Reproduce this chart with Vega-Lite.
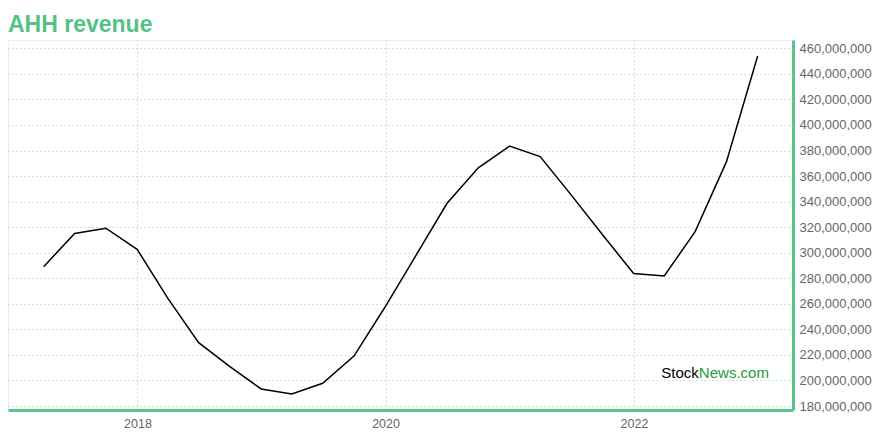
{
  "$schema": "https://vega.github.io/schema/vega-lite/v6.json",
  "autosize": {"type": "none"},
  "width": 785,
  "height": 370,
  "padding": {"left": 8, "top": 40, "right": 87, "bottom": 30},
  "background": "white",
  "title": {
    "text": "AHH revenue",
    "anchor": "start",
    "frame": "group",
    "offset": 3,
    "font": "Liberation Sans",
    "fontSize": 23,
    "fontWeight": "bold",
    "color": "#52c286"
  },
  "config": {
    "view": {"stroke": "#eeeeee", "strokeWidth": 1},
    "axis": {
      "labelFont": "Liberation Sans",
      "labelFontSize": 13,
      "labelColor": "#666666",
      "labelOverlap": false,
      "domainColor": "#5cc58a",
      "domainWidth": 3,
      "ticks": false,
      "grid": true,
      "gridColor": "#7fd0a2",
      "gridDash": [1, 3],
      "gridWidth": 1,
      "gridOpacity": 0.9,
      "title": null
    }
  },
  "data": {
    "values": [
      {"date": "2017-03-31", "revenue": 289100000},
      {"date": "2017-06-30", "revenue": 315000000},
      {"date": "2017-09-30", "revenue": 319200000},
      {"date": "2017-12-31", "revenue": 302700000},
      {"date": "2018-03-31", "revenue": 264400000},
      {"date": "2018-06-30", "revenue": 229600000},
      {"date": "2018-09-30", "revenue": 210800000},
      {"date": "2018-12-31", "revenue": 193400000},
      {"date": "2019-03-31", "revenue": 189400000},
      {"date": "2019-06-30", "revenue": 197800000},
      {"date": "2019-09-30", "revenue": 219100000},
      {"date": "2019-12-31", "revenue": 257700000},
      {"date": "2020-03-31", "revenue": 298200000},
      {"date": "2020-06-30", "revenue": 338700000},
      {"date": "2020-09-30", "revenue": 366500000},
      {"date": "2020-12-31", "revenue": 383500000},
      {"date": "2021-03-31", "revenue": 375200000},
      {"date": "2021-06-30", "revenue": 345300000},
      {"date": "2021-09-30", "revenue": 314200000},
      {"date": "2021-12-31", "revenue": 283800000},
      {"date": "2022-03-31", "revenue": 281800000},
      {"date": "2022-06-30", "revenue": 316500000},
      {"date": "2022-09-30", "revenue": 371100000},
      {"date": "2022-12-31", "revenue": 454000000}
    ]
  },
  "layer": [
    {
      "mark": {"type": "line", "color": "#000000", "strokeWidth": 1.5, "clip": true},
      "encoding": {
        "x": {
          "field": "date",
          "type": "temporal",
          "scale": {"domain": [{"year": 2016, "month": 12, "date": 16}, {"year": 2023, "month": 4, "date": 14}]},
          "axis": {
            "orient": "bottom",
            "values": [{"year": 2018, "month": 1, "date": 1}, {"year": 2020, "month": 1, "date": 1}, {"year": 2022, "month": 1, "date": 1}],
            "format": "%Y",
            "labelFontSize": 12.5,
            "labelPadding": 7
          }
        },
        "y": {
          "field": "revenue",
          "type": "quantitative",
          "scale": {"domain": [176900000, 466500000], "nice": false, "zero": false},
          "axis": {
            "orient": "right",
            "tickCount": 30,
            "values": [180000000, 200000000, 220000000, 240000000, 260000000, 280000000, 300000000, 320000000, 340000000, 360000000, 380000000, 400000000, 420000000, 440000000, 460000000],
            "format": ",d",
            "labelPadding": 6
          }
        }
      }
    },
    {
      "data": {"values": [{"t": "Stock"}]},
      "mark": {"type": "text", "align": "right", "baseline": "alphabetic", "font": "Liberation Sans", "fontSize": 15, "color": "#000000"},
      "encoding": {
        "x": {"datum": {"year": 2022, "month": 7, "date": 11}, "type": "temporal"},
        "y": {"datum": 202000000, "type": "quantitative"},
        "text": {"field": "t"}
      }
    },
    {
      "data": {"values": [{"t": "News.com"}]},
      "mark": {"type": "text", "align": "left", "baseline": "alphabetic", "font": "Liberation Sans", "fontSize": 15, "color": "#259a3c"},
      "encoding": {
        "x": {"datum": {"year": 2022, "month": 7, "date": 11}, "type": "temporal"},
        "y": {"datum": 202000000, "type": "quantitative"},
        "text": {"field": "t"}
      }
    }
  ]
}
